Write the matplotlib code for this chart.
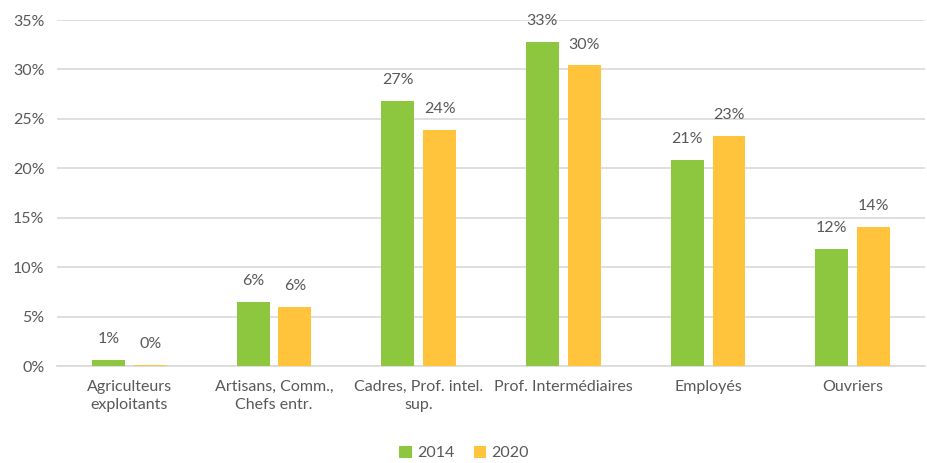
import matplotlib

matplotlib.use("Agg", force=True)

import matplotlib.pyplot as plt
from matplotlib.ticker import FuncFormatter, MultipleLocator
import numpy as np

categories = [
    "Agriculteurs\nexploitants",
    "Artisans, Comm.,\nChefs entr.",
    "Cadres, Prof. intel.\nsup.",
    "Prof. Intermédiaires",
    "Employés",
    "Ouvriers",
]
values_2014 = [0.6, 6.5, 26.8, 32.8, 20.8, 11.8]
values_2020 = [0.1, 6.0, 23.9, 30.4, 23.3, 14.1]
series_names = ["2014", "2020"]

GREEN = "#8DC63F"
YELLOW = "#FFC43C"
TEXT = "#595959"
GRID = "#D9D9D9"

plt.rcParams["font.family"] = ["Lato", "DejaVu Sans"]

fig = plt.figure(figsize=(9.28, 4.63), dpi=100)
ax = fig.add_axes([0.0614, 0.2095, 0.9354, 0.7473])

x = np.arange(len(categories))
width = 0.228
offset = (width + 0.062) / 2

bars_a = ax.bar(x - offset, values_2014, width, color=GREEN, label=series_names[0], zorder=3)
bars_b = ax.bar(x + offset, values_2020, width, color=YELLOW, label=series_names[1], zorder=3)

for bars in (bars_a, bars_b):
    for bar in bars:
        h = bar.get_height()
        ax.annotate(f"{h:.0f}%", (bar.get_x() + bar.get_width() / 2, h),
                    xytext=(0, 10), textcoords="offset points",
                    ha="center", va="bottom", fontsize=11.5, color=TEXT)

ax.set_xlim(-0.5, len(categories) - 0.5)
ax.set_ylim(0, 35)
ax.yaxis.set_major_locator(MultipleLocator(5))
ax.yaxis.set_major_formatter(FuncFormatter(lambda v, _: f"{v:.0f}%"))
ax.grid(axis="y", color=GRID, linewidth=1.2, zorder=0)

ax.set_xticks(x)
ax.set_xticklabels(categories, fontsize=11.5, color=TEXT, linespacing=1.4)
ax.tick_params(axis="y", labelsize=11.5, labelcolor=TEXT, length=0, pad=9)
ax.tick_params(axis="x", length=0, pad=10)

for side in ("top", "right", "left"):
    ax.spines[side].set_visible(False)
ax.spines["bottom"].set_color(GRID)
ax.spines["bottom"].set_linewidth(1.2)

fig.legend(loc="lower center", bbox_to_anchor=(0.5, -0.025), ncol=2, frameon=False,
           fontsize=11.5, labelcolor=TEXT, handlelength=0.8, handleheight=0.8,
           handletextpad=0.3, columnspacing=1.2)

fig.savefig("out.png", dpi=100)
plt.close(fig)
